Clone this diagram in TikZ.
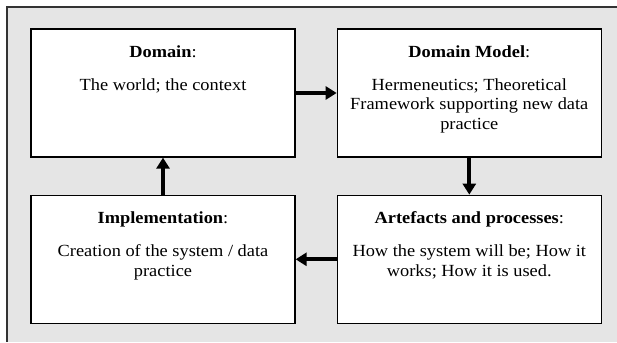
\documentclass[tikz,border=0pt]{standalone}
\usepackage{fontspec}
\setmainfont{Liberation Serif}[FakeStretch=1.08]
\usepackage{tikz}
\usetikzlibrary{positioning}
\usetikzlibrary{arrows.meta}

\begin{document}
\begin{tikzpicture}[x=1pt, y=-1pt,
    box/.style={draw, fill=white, line width=1.3pt, minimum width=264pt, minimum height=128pt, inner sep=0pt},
    head/.style={anchor=base, inner sep=0pt, font=\fontsize{17}{19.5}\selectfont},
    body/.style={anchor=north, inner sep=0pt, align=center, font=\fontsize{17}{19.5}\selectfont},
    flow/.style={line width=4pt, -{Triangle[length=11pt, width=13pt]}}]
            \def \headgap {29pt}
            \def \bodygap {50pt}

            \useasboundingbox (0,0) rectangle (617,342);
            \fill [black!10] (7,7) rectangle (617,342);
            \draw [black!80, line width=1.3pt] (617,7) -- (7,7) -- (7,342);

            \node [box] (domain) at (163,93) {};
            \node [box, right=41pt of domain] (model) {};
            \node [box, below=37pt of model] (artefacts) {};
            \node [box, below=37pt of domain] (implementation) {};

            \node [head] (domainT) at ([yshift=-\headgap] domain.north) {\textbf{Domain}:};
            \node [body] (domainB) at ([yshift=-\bodygap] domain.north) {The world; the context};

            \node [head] (modelT) at ([yshift=-\headgap] model.north) {\textbf{Domain Model}:};
            \node [body] (modelB) at ([yshift=-\bodygap] model.north) {Hermeneutics; Theoretical\\Framework supporting new data\\practice};

            \node [head] (artefactsT) at ([yshift=-\headgap] artefacts.north) {\textbf{Artefacts and processes}:};
            \node [body] (artefactsB) at ([yshift=-\bodygap] artefacts.north) {How the system will be; How it\\works; How it is used.};

            \node [head] (implementationT) at ([yshift=-\headgap] implementation.north) {\textbf{Implementation}:};
            \node [body] (implementationB) at ([yshift=-\bodygap] implementation.north) {Creation of the system / data\\practice};

            % the cycle
            \draw [flow] (domain) -- (model);
            \draw [flow] (model) -- (artefacts);
            \draw [flow] (artefacts) -- (implementation);
            \draw [flow] (implementation) -- (domain);
\end{tikzpicture}
\end{document}
